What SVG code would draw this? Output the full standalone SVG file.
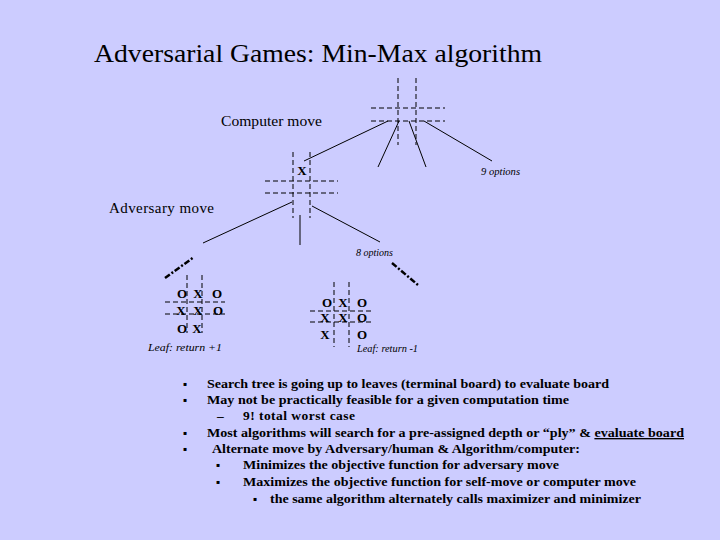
<svg xmlns="http://www.w3.org/2000/svg" width="720" height="540" viewBox="0 0 720 540">
<style>
.bg{fill:#CCCCFF}
.grid{stroke:#000;stroke-width:1;stroke-dasharray:5,3;fill:none}
.edge{stroke:#000;stroke-width:1;fill:none}
.dd{stroke:#000;stroke-width:2.5;stroke-dasharray:6,2,2,2;fill:none}
.t{font-family:"Liberation Serif","Times New Roman",serif;fill:#000}
.lbl{font-size:15px}
.it{font-size:10px;font-style:italic}
.mk{font-size:13px;font-weight:bold;text-anchor:middle}
.b{font-size:13.5px;font-weight:bold}
.bul{font-family:"DejaVu Sans",sans-serif;font-size:6px;fill:#000}
</style>
<rect class="bg" x="0" y="0" width="720" height="540"/>
<text class="t" x="94" y="62" font-size="26" textLength="448" lengthAdjust="spacingAndGlyphs">Adversarial Games: Min-Max algorithm</text>

<g id="connectors">
<line class="edge" x1="388" y1="121" x2="304" y2="161"/>
<line class="edge" x1="399" y1="121" x2="378" y2="167"/>
<line class="edge" x1="409" y1="121" x2="426" y2="167"/>
<line class="edge" x1="424" y1="121" x2="492" y2="161"/>
<line class="edge" x1="292" y1="202" x2="203" y2="243"/>
<line class="edge" x1="300" y1="215" x2="300" y2="245"/>
<line class="edge" x1="312" y1="206" x2="380" y2="242"/>
<line class="dd" x1="165" y1="278" x2="194" y2="257"/>
<line class="dd" x1="392" y1="263" x2="418" y2="285"/>
</g>

<g id="root-board">
<line class="grid" x1="398" y1="78" x2="398" y2="145"/>
<line class="grid" x1="416" y1="78" x2="416" y2="145"/>
<line class="grid" x1="371" y1="108" x2="445" y2="108"/>
<line class="grid" x1="371" y1="121" x2="445" y2="121"/>
</g>
<text id="computer-move" class="t lbl" x="221" y="126" textLength="101" lengthAdjust="spacingAndGlyphs">Computer move</text>
<text id="nine-options" class="t it" x="481" y="175" textLength="39" lengthAdjust="spacingAndGlyphs">9 options</text>

<g id="x-board">
<line class="grid" x1="293" y1="152" x2="293" y2="218"/>
<line class="grid" x1="310" y1="152" x2="310" y2="218"/>
<line class="grid" x1="265" y1="181" x2="338" y2="181"/>
<line class="grid" x1="265" y1="193" x2="338" y2="193"/>
<text class="t mk" x="302" y="175">X</text>
</g>
<text id="adversary-move" class="t lbl" x="109" y="213" textLength="105" lengthAdjust="spacing">Adversary move</text>
<text id="eight-options" class="t it" x="356" y="256" textLength="37" lengthAdjust="spacingAndGlyphs">8 options</text>

<g id="leaf-plus">
<line class="grid" x1="187" y1="275" x2="187" y2="333"/>
<line class="grid" x1="202" y1="275" x2="202" y2="333"/>
<line class="grid" x1="165" y1="302" x2="225" y2="302"/>
<line class="grid" x1="165" y1="314" x2="225" y2="314"/>
<text class="t mk" x="182" y="298">O</text>
<text class="t mk" x="198" y="298">X</text>
<text class="t mk" x="217" y="298">O</text>
<text class="t mk" x="181" y="315">X</text>
<text class="t mk" x="198" y="315">X</text>
<text class="t mk" x="218" y="315">O</text>
<text class="t mk" x="182" y="333">O</text>
<text class="t mk" x="197" y="333">X</text>
<text class="t it" x="148" y="351" textLength="74" lengthAdjust="spacingAndGlyphs">Leaf: return +1</text>
</g>

<g id="leaf-minus">
<line class="grid" x1="334" y1="282" x2="334" y2="347"/>
<line class="grid" x1="349" y1="282" x2="349" y2="347"/>
<line class="grid" x1="310" y1="311" x2="371" y2="311"/>
<line class="grid" x1="310" y1="322" x2="371" y2="322"/>
<text class="t mk" x="327" y="307">O</text>
<text class="t mk" x="343" y="307">X</text>
<text class="t mk" x="362" y="307">O</text>
<text class="t mk" x="325" y="322">X</text>
<text class="t mk" x="343" y="322">X</text>
<text class="t mk" x="362" y="322">O</text>
<text class="t mk" x="325" y="339">X</text>
<text class="t mk" x="362" y="339">O</text>
<text class="t it" x="357" y="352" textLength="61" lengthAdjust="spacingAndGlyphs">Leaf: return -1</text>
</g>

<g id="bullets">
<text class="bul" x="183" y="386">▪</text>
<text class="t b" x="207" y="388" textLength="402" lengthAdjust="spacingAndGlyphs">Search tree is going up to leaves (terminal board) to evaluate board</text>
<text class="bul" x="183" y="402">▪</text>
<text class="t b" x="207" y="404" textLength="362" lengthAdjust="spacingAndGlyphs">May not be practically feasible for a given computation time</text>
<text class="t b" x="217" y="420">–</text>
<text class="t b" x="243" y="420" textLength="112" lengthAdjust="spacing">9!  total worst case</text>
<text class="bul" x="183" y="435">▪</text>
<text class="t b" x="207" y="437" textLength="477" lengthAdjust="spacingAndGlyphs">Most algorithms will search for a pre-assigned depth or “ply” &amp; <tspan text-decoration="underline">evaluate board</tspan></text>
<text class="bul" x="183" y="451">▪</text>
<text class="t b" x="212" y="453" textLength="368" lengthAdjust="spacingAndGlyphs">Alternate move by Adversary/human &amp; Algorithm/computer:</text>
<text class="bul" x="216" y="467">▪</text>
<text class="t b" x="243" y="469" textLength="316" lengthAdjust="spacingAndGlyphs">Minimizes the objective function for adversary move</text>
<text class="bul" x="216" y="484">▪</text>
<text class="t b" x="243" y="486" textLength="393" lengthAdjust="spacingAndGlyphs">Maximizes the objective function for self-move or computer move</text>
<text class="bul" x="253" y="501">▪</text>
<text class="t b" x="270" y="503" textLength="371" lengthAdjust="spacingAndGlyphs">the same algorithm alternately calls maximizer and minimizer</text>
</g>
</svg>
